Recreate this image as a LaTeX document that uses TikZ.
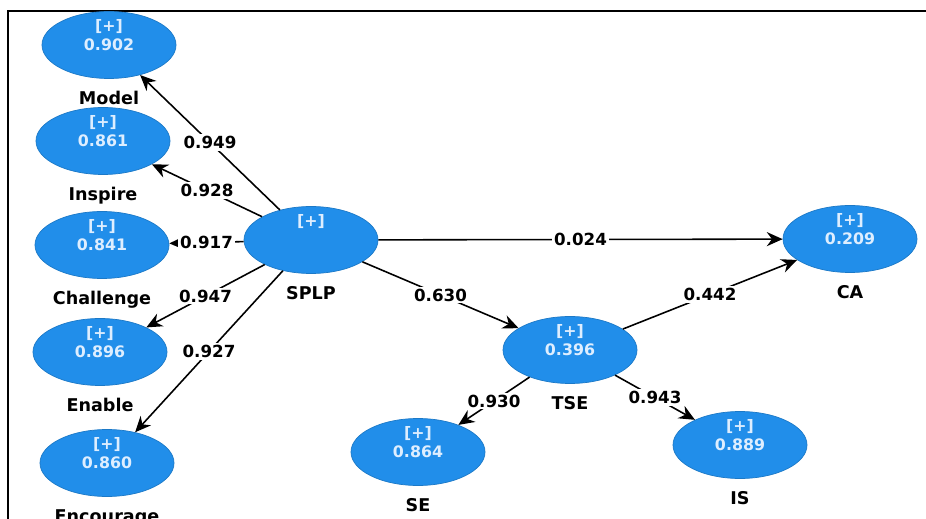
\documentclass[tikz,border=0pt]{standalone}
\usepackage{fontspec}
\setmainfont{DejaVu Sans}
\usetikzlibrary{shapes.geometric,arrows.meta}
\definecolor{lvblue}{RGB}{33,142,234}
\definecolor{lvtext}{RGB}{222,238,255}
\begin{document}
\begin{tikzpicture}[x=0.2mm,y=-0.2mm,label distance=3.5pt,
        lv/.style={ellipse,fill=lvblue,draw=lvblue!85!black,minimum width=2.68cm,minimum height=1.34cm,inner sep=0pt},
        val/.style={text=lvtext,font=\bfseries\fontsize{9}{11}\selectfont,align=center,yshift=5.7pt},
        lvname/.style={font=\bfseries\fontsize{10}{12}\selectfont},
        arr/.style={-{Stealth[length=9pt,width=8pt]},line width=0.9pt},
        coef/.style={fill=white,inner sep=1pt,font=\bfseries\fontsize{9.5}{11}\selectfont}]
        \useasboundingbox (0,0) rectangle (926,519);
        \draw[line width=1.2pt] (926,11) -- (8,11) -- (8,519);
        % latent variables
        \node[lv,label={[lvname]below:Model}] (Model) at (109,45) {};
        \node[val] (Model-v) at (Model) {[+]\\0.902};
        \node[lv,label={[lvname]below:Inspire}] (Inspire) at (103,141) {};
        \node[val] (Inspire-v) at (Inspire) {[+]\\0.861};
        \node[lv,label={[lvname]below:Challenge}] (Challenge) at (102,245) {};
        \node[val] (Challenge-v) at (Challenge) {[+]\\0.841};
        \node[lv,label={[lvname]below:Enable}] (Enable) at (100,352) {};
        \node[val] (Enable-v) at (Enable) {[+]\\0.896};
        \node[lv,label={[lvname]below:Encourage}] (Encourage) at (107,463) {};
        \node[val] (Encourage-v) at (Encourage) {[+]\\0.860};
        \node[lv,label={[lvname]below:SPLP}] (SPLP) at (311,240) {};
        \node[val] (SPLP-v) at (SPLP) {[+]\\\phantom{0.000}};
        \node[lv,label={[lvname]below:CA}] (CA) at (850,239) {};
        \node[val] (CA-v) at (CA) {[+]\\0.209};
        \node[lv,label={[lvname]below:TSE}] (TSE) at (570,350) {};
        \node[val] (TSE-v) at (TSE) {[+]\\0.396};
        \node[lv,label={[lvname]below:SE}] (SE) at (418,452) {};
        \node[val] (SE-v) at (SE) {[+]\\0.864};
        \node[lv,label={[lvname]below:IS}] (IS) at (740,445) {};
        \node[val] (IS-v) at (IS) {[+]\\0.889};
        % paths
        \draw[arr] (SPLP) -- node[coef]{0.949} (Model);
        \draw[arr] (SPLP) -- node[coef]{0.928} (Inspire);
        \draw[arr] (SPLP) -- node[coef]{0.917} (Challenge);
        \draw[arr] (SPLP) -- node[coef]{0.947} (Enable);
        \draw[arr] (SPLP) -- node[coef]{0.927} (Encourage);
        \draw[arr] (SPLP) -- node[coef]{0.024} (CA);
        \draw[arr] (SPLP) -- node[coef]{0.630} (TSE);
        \draw[arr] (TSE) -- node[coef]{0.442} (CA);
        \draw[arr] (TSE) -- node[coef]{0.930} (SE);
        \draw[arr] (TSE) -- node[coef]{0.943} (IS);
    \end{tikzpicture}
\end{document}
